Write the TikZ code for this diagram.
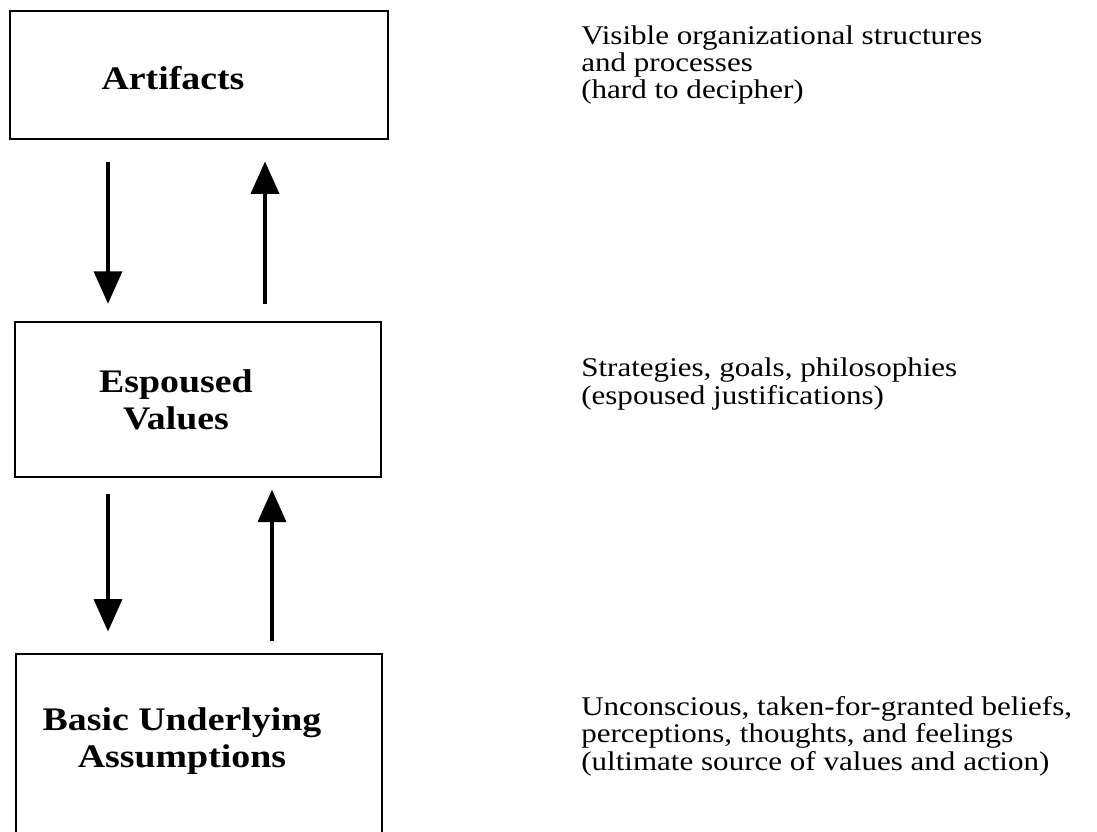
\documentclass[tikz,border=0pt]{standalone}
\usepackage{fontspec}
\setmainfont{Liberation Serif}[FakeStretch=1.15]
\usetikzlibrary{arrows.meta,positioning}

\begin{document}
\begin{tikzpicture}[x=0.025cm,y=-0.025cm,
    layer/.style={draw,line width=2pt,rectangle,inner sep=0pt},
    layertext/.style={font=\fontsize{23.4}{26.5}\selectfont\bfseries,align=center},
    note/.style={font=\fontsize{19.2}{19.5}\selectfont,align=left,anchor=west,inner sep=0pt},
    flow/.style={line width=2.2pt,-{Triangle[length=23pt,width=20pt]}}]
  \useasboundingbox (0,0) rectangle (1097,832);
  \clip (0,0) rectangle (1097,832);
% the three levels
  \node[layer,minimum width=9.45cm,minimum height=3.2cm] (art) at (199,75) {};
  \node[layer,minimum width=9.15cm,minimum height=3.875cm] (esp) at (198,399.5) {};
  \node[layer,minimum width=9.15cm,minimum height=5.4cm] (bua) at (199,762) {};
  \node[layertext] (artlbl) at (173,78) {Artifacts};
  \node[layertext] (esplbl) at (176,400) {Espoused\\Values};
  \node[layertext] (bualbl) at (182,741) {Basic Underlying\\Assumptions};
% arrows between levels
  \coordinate (downx) at (108,0);
  \coordinate (upx) at (265,0);
  \coordinate (upxx) at (272,0);
  \draw[flow,shorten <=15pt,shorten >=12pt] (art.south -| downx) -- (esp.north -| downx);
  \draw[flow,shorten <=12pt,shorten >=15pt] (esp.north -| upx) -- (art.south -| upx);
  \draw[flow,shorten <=11pt,shorten >=15pt] (esp.south -| downx) -- (bua.north -| downx);
  \draw[flow,shorten <=8.5pt,shorten >=8pt] (bua.north -| upxx) -- (esp.south -| upxx);
% notes on the right
  \node[note] (artnote) at (581,65) {Visible organizational structures\\and processes\\(hard to decipher)};
  \node[note] (espnote) at (581,384) {Strategies, goals, philosophies\\(espoused justifications)};
  \node[note] (buanote) at (581,736) {Unconscious, taken-for-granted beliefs,\\perceptions, thoughts, and feelings\\(ultimate source of values and action)};
\end{tikzpicture}
\end{document}
